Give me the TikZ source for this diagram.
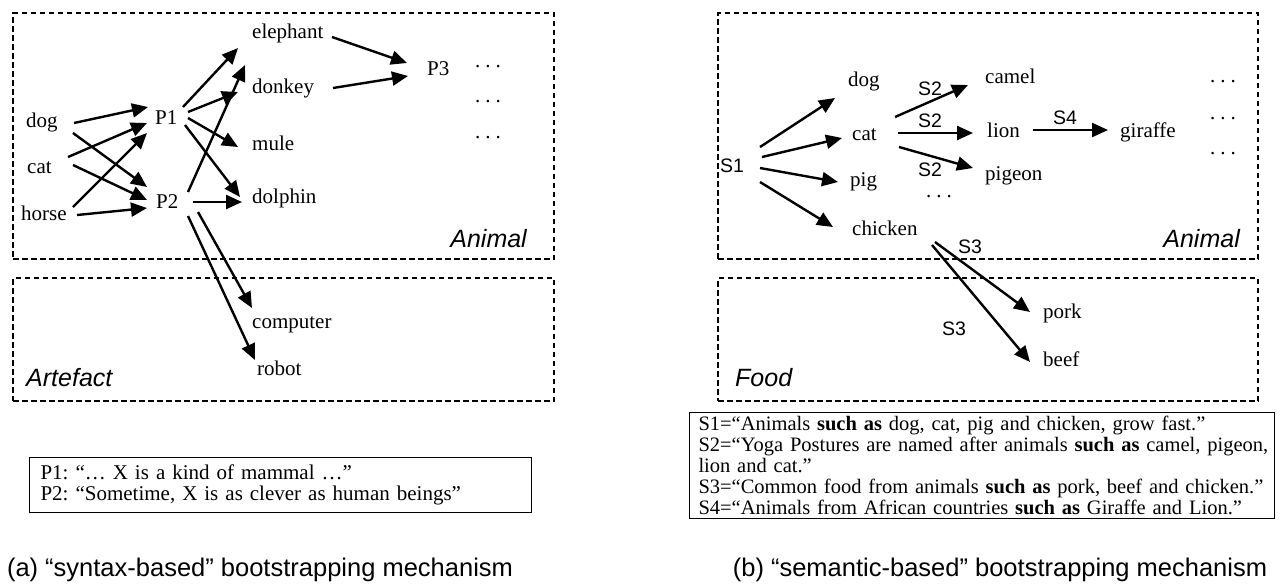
\documentclass[tikz,border=0pt]{standalone}
\usepackage{fontspec}
\setmainfont{Liberation Serif}
\setsansfont{Liberation Sans}
\usetikzlibrary{arrows.meta,calc}
\frenchspacing
\newcommand{\mydots}{.\kern5pt.\kern5pt.}
\begin{document}
\begin{tikzpicture}[x=1pt,y=-1pt,
  lbl/.style={anchor=base west,inner sep=0pt,font=\fontsize{21}{24}\selectfont},
  slbl/.style={inner sep=0pt,font=\sffamily\fontsize{19.5}{22}\selectfont},
  region/.style={draw,line width=2.4pt,dash pattern=on 5.5pt off 3.5pt,anchor=north west,inner sep=0pt},
  rlabel/.style={inner sep=0pt,anchor=base west,font=\sffamily\itshape\fontsize{25}{28}\selectfont},
  arr/.style={line width=2.4pt,-{Triangle[length=16pt,width=14pt]}},
  defbox/.style={draw,line width=1pt,anchor=north west,align=left,inner xsep=11pt,
    font=\fontsize{21}{21.5}\selectfont},
  caption/.style={inner sep=0pt,font=\sffamily\fontsize{25.5}{28}\selectfont}]
\useasboundingbox (0,0) rectangle (1284,587);

% ---------------- (a) ----------------
\node[region,minimum width=541,minimum height=246] (animalA) at (12,12) {};
\node[region,minimum width=541,minimum height=123] (artefact) at (12,277) {};
\node[rlabel,anchor=base east] (animalAlbl) at (527,247) {Animal};
\node[rlabel] (artefactlbl) at (26,386) {Artefact};

\node[lbl] (dogA) at (26,127) {dog};
\node[lbl] (catA) at (27,173) {cat};
\node[lbl] (horse) at (21,220) {horse};
\node[lbl] (P1) at (155,124) {P1};
\node[lbl] (P2) at (156,208) {P2};
\node[lbl] (elephant) at (252,38) {elephant};
\node[lbl] (donkey) at (252,93) {donkey};
\node[lbl] (mule) at (252,150) {mule};
\node[lbl] (dolphin) at (252,203) {dolphin};
\node[lbl] (P3) at (427,75) {P3};
\node[lbl] (dA1) at (475,67) {\mydots};
\node[lbl] (dA2) at (475,102) {\mydots};
\node[lbl] (dA3) at (475,138) {\mydots};
\node[lbl] (computer) at (252,328) {computer};
\node[lbl] (robot) at (257,375) {robot};

\draw[arr] ($(dogA.base west)+(48,-4)$) -- ($(P1.base west)+(-7,-17)$);
\draw[arr] ($(dogA.base west)+(47,6)$) -- ($(P2.base west)+(-9,-21)$);
\draw[arr] ($(catA.base west)+(41,-16)$) -- ($(P1.base west)+(-8,-1)$);
\draw[arr] ($(catA.base west)+(46,-8)$) -- ($(P2.base west)+(-9,-8)$);
\draw[arr] ($(horse.base west)+(52,-13)$) -- ($(P1.base west)+(-8,9)$);
\draw[arr] ($(horse.base west)+(56,-5)$) -- ($(P2.base west)+(-9,0)$);
\draw[arr] ($(P1.base west)+(28,-17)$) -- ($(elephant.base west)+(-14,10)$);
\draw[arr] ($(P1.base west)+(33,-12)$) -- ($(donkey.base west)+(-14,-1)$);
\draw[arr] ($(P1.base west)+(33,-6)$) -- ($(mule.base west)+(-14,-3)$);
\draw[arr] ($(P1.base west)+(30,1)$) -- ($(dolphin.base west)+(-12,-6)$);
\draw[arr] ($(P2.base west)+(32,-16)$) -- ($(donkey.base west)+(-7,-28)$);
\draw[arr] ($(P2.base west)+(37,-6)$) -- ($(dolphin.base west)+(-10,-1)$);
\draw[arr] ($(P2.base west)+(42,4)$) -- ($(computer.base west)+(0,-20)$);
\draw[arr] ($(P2.base west)+(32,8)$) -- ($(robot.base west)+(-2,-15)$);
\draw[arr] ($(elephant.base west)+(80,-1)$) -- ($(P3.base west)+(-20,-12)$);
\draw[arr] ($(donkey.base west)+(81,-5)$) -- ($(P3.base west)+(-19,1)$);

\node[defbox,minimum width=502,minimum height=55,text width=480] (pdefs) at (29,457)
  {P1: “… X is a kind of mammal …”\\P2: “Sometime, X is as clever as human beings”};
\node[caption] (capA) at (260,570) {(a) “syntax-based” bootstrapping mechanism};

% ---------------- (b) ----------------
\node[region,minimum width=540,minimum height=246] (animalB) at (717,12) {};
\node[region,minimum width=540,minimum height=123] (food) at (717,277) {};
\node[rlabel,anchor=base east] (animalBlbl) at (1240,247) {Animal};
\node[rlabel] (foodlbl) at (735,386) {Food};

\node[slbl,anchor=base west] (S1) at (720,172) {S1};
\node[lbl] (dogB) at (848,86) {dog};
\node[lbl] (catB) at (852,140) {cat};
\node[lbl] (pig) at (850,186) {pig};
\node[lbl] (chicken) at (852,235) {chicken};
\node[lbl] (camel) at (985,83) {camel};
\node[lbl] (lion) at (987,137) {lion};
\node[lbl] (pigeon) at (985,180) {pigeon};
\node[lbl] (giraffe) at (1120,137) {giraffe};
\node[lbl] (dB0) at (926,197) {\mydots};
\node[lbl] (dB1) at (1210,82) {\mydots};
\node[lbl] (dB2) at (1210,119) {\mydots};
\node[lbl] (dB3) at (1210,154) {\mydots};
\node[lbl] (pork) at (1043,318) {pork};
\node[lbl] (beef) at (1043,366) {beef};

\draw[arr] ($(S1.base west)+(40,-25)$) -- ($(dogB.base west)+(-13,12)$);
\draw[arr] ($(S1.base west)+(42,-15)$) -- ($(catB.base west)+(-10,-2)$);
\draw[arr] ($(S1.base west)+(40,-4)$) -- ($(pig.base west)+(-12,-4)$);
\draw[arr] ($(S1.base west)+(40,10)$) -- ($(chicken.base west)+(-19,-8)$);
\draw[arr] ($(catB.base west)+(43,-23)$) -- ($(camel.base west)+(-17,2)$);
\draw[arr] ($(catB.base west)+(46,-7)$) -- ($(lion.base west)+(-14,-4)$);
\draw[arr] ($(catB.base west)+(47,7)$) -- ($(pigeon.base west)+(-12,-12)$);
\draw[arr] ($(lion.base west)+(46,-7)$) -- ($(giraffe.base west)+(-12,-7)$);
\draw[arr] ($(chicken.base west)+(83,7)$) -- ($(pork.base west)+(-13,-6)$);
\draw[arr] ($(chicken.base west)+(80,10)$) -- ($(beef.base west)+(-13,-4)$);

\node[slbl] (s2a) at (930,89) {S2};
\node[slbl] (s2b) at (930,121) {S2};
\node[slbl] (s2c) at (930,170) {S2};
\node[slbl] (s4) at (1065,118) {S4};
\node[slbl] (s3a) at (970,247) {S3};
\node[slbl] (s3b) at (954,329) {S3};

\node[defbox,inner xsep=9pt,inner ysep=3pt,minimum width=585,minimum height=106,text width=567,
      font=\fontsize{20.5}{21}\selectfont] (sdefs) at (689,412)
  {\mbox{S1=“Animals \textbf{such as} dog, cat, pig and chicken, grow fast.”}\\
   \mbox{S2=“Yoga Postures are named after animals \textbf{such as} camel, pigeon,}\\
   \mbox{lion and cat.”}\\
   \mbox{S3=“Common food from animals \textbf{such as} pork, beef and chicken.”}\\
   \mbox{S4=“Animals from African countries \textbf{such as} Giraffe and Lion.”}};
\node[caption] (capB) at (1000,570) {(b) “semantic-based” bootstrapping mechanism};
\end{tikzpicture}
\end{document}
